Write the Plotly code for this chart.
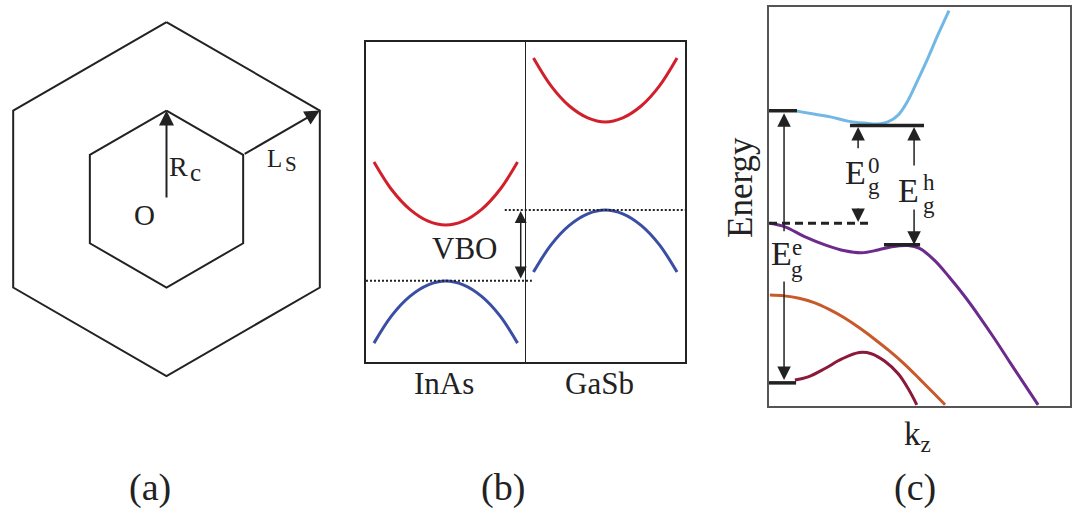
import plotly.graph_objects as go

W, H = 1077, 511
FONT = "Liberation Serif"
INK = "#222222"

# ---------------- panel (a): hexagons (units of Rc) ----------------
outer_hex_x = [0.0, 1.732, 1.732, 0.0, -1.732, -1.732, 0.0]
outer_hex_y = [2.0, 1.0, -1.0, -2.0, -1.0, 1.0, 2.0]
inner_hex_x = [0.0, 0.866, 0.866, 0.0, -0.866, -0.866, 0.0]
inner_hex_y = [1.0, 0.5, -0.5, -1.0, -0.5, 0.5, 1.0]
rc_arrow = dict(x0=0.0, y0=0.0, x1=0.0, y1=1.0)
ls_arrow = dict(x0=0.866, y0=0.5, x1=1.732, y1=1.0)

# ---------------- panel (b): band alignment ----------------
inas_k = [0.05, 0.16, 0.275, 0.39, 0.5, 0.61, 0.725, 0.84, 0.95]
gasb_k = [1.05, 1.16, 1.275, 1.39, 1.5, 1.61, 1.725, 1.84, 1.95]
inas_cb = [6.25, 5.39, 4.77, 4.40, 4.28, 4.40, 4.77, 5.39, 6.25]
inas_vb = [0.59, 1.44, 2.05, 2.41, 2.53, 2.41, 2.05, 1.44, 0.59]
gasb_cb = [9.50, 8.63, 8.00, 7.63, 7.50, 7.63, 8.00, 8.63, 9.50]
gasb_vb = [2.81, 3.66, 4.27, 4.63, 4.75, 4.63, 4.27, 3.66, 2.81]
inas_vbm_line = dict(x=[0.0, 1.04], e=2.54)
gasb_vbm_line = dict(x=[0.87, 2.0], e=4.75)
vbo_arrow = dict(k=0.97, e0=2.56, e1=4.72)

# ---------------- panel (c): dispersion along kz ----------------
c1_k = [0.092, 0.153, 0.208, 0.262, 0.319, 0.362, 0.395, 0.429, 0.462, 0.495, 0.528, 0.561, 0.598]
c1_e = [7.39, 7.31, 7.24, 7.14, 7.09, 7.07, 7.12, 7.29, 7.66, 8.18, 8.72, 9.30, 9.91]
v1_k = [0.003, 0.053, 0.120, 0.186, 0.252, 0.308, 0.362, 0.408, 0.462, 0.50, 0.55, 0.60,
        0.65, 0.70, 0.75, 0.80, 0.85, 0.894]
v1_e = [4.58, 4.49, 4.24, 4.04, 3.89, 3.84, 3.91, 3.99, 4.02, 3.95, 3.65, 3.22,
        2.75, 2.23, 1.68, 1.10, 0.53, 0.03]
v2_k = [0.003, 0.05, 0.10, 0.15, 0.20, 0.25, 0.30, 0.35, 0.40, 0.45, 0.50, 0.55, 0.585]
v2_e = [2.78, 2.76, 2.70, 2.59, 2.42, 2.21, 1.96, 1.68, 1.38, 1.05, 0.68, 0.30, 0.03]
v3_k = [0.086, 0.130, 0.186, 0.242, 0.300, 0.340, 0.385, 0.430, 0.465, 0.491]
v3_e = [0.65, 0.73, 0.94, 1.18, 1.34, 1.31, 1.12, 0.80, 0.40, 0.03]
# marker bars: (k_start, k_end, energy, dashed)
bars = [(0.0, 0.093, 7.40, False),
        (0.269, 0.515, 7.03, False),
        (0.0, 0.34, 4.58, True),
        (0.382, 0.502, 4.04, False),
        (0.0, 0.090, 0.58, False)]
# gap arrows: (k, tail, head)
gap_arrows = [(0.050, 4.34, 7.34), (0.050, 3.16, 0.65),
              (0.296, 6.42, 6.99), (0.296, 4.99, 4.61),
              (0.482, 5.99, 6.99), (0.482, 4.96, 4.04)]

fig = go.Figure()

# panel a
for xs, ys in [(outer_hex_x, outer_hex_y), (inner_hex_x, inner_hex_y)]:
    fig.add_trace(go.Scatter(x=xs, y=ys, mode="lines", line=dict(color=INK, width=2),
                             xaxis="x", yaxis="y", hoverinfo="skip", showlegend=False))

# panel b
for ks, es, col in [(inas_k, inas_cb, "#d1202b"), (inas_k, inas_vb, "#3a4ea3"),
                    (gasb_k, gasb_cb, "#d1202b"), (gasb_k, gasb_vb, "#3a4ea3")]:
    fig.add_trace(go.Scatter(x=ks, y=es, mode="lines", line=dict(color=col, width=3, shape="spline"),
                             xaxis="x2", yaxis="y2", hoverinfo="skip", showlegend=False))
for ln in (inas_vbm_line, gasb_vbm_line):
    fig.add_trace(go.Scatter(x=ln["x"], y=[ln["e"], ln["e"]], mode="lines",
                             line=dict(color=INK, width=2, dash="2px,2px"),
                             xaxis="x2", yaxis="y2", hoverinfo="skip", showlegend=False))
fig.add_trace(go.Scatter(x=[1.0, 1.0], y=[0, 10], mode="lines", line=dict(color=INK, width=1),
                         xaxis="x2", yaxis="y2", hoverinfo="skip", showlegend=False))

# panel c
for ks, es, col in [(c1_k, c1_e, "#72b8e6"), (v1_k, v1_e, "#6b2a8c"),
                    (v2_k, v2_e, "#c85a2a"), (v3_k, v3_e, "#8b1a3a")]:
    fig.add_trace(go.Scatter(x=ks, y=es, mode="lines", line=dict(color=col, width=3, shape="spline"),
                             xaxis="x3", yaxis="y3", hoverinfo="skip", showlegend=False))
for k0, k1, e, dashed in bars:
    fig.add_trace(go.Scatter(x=[k0, k1], y=[e, e], mode="lines",
                             line=dict(color=INK, width=3.5 if not dashed else 3,
                                       dash="8px,5px" if dashed else "solid"),
                             xaxis="x3", yaxis="y3", hoverinfo="skip", showlegend=False))

ann = []

def arrow(x0, y0, x1, y1, xr, yr, side="end", size=1.3, width=1.5):
    ann.append(dict(x=x1, y=y1, ax=x0, ay=y0, xref=xr, yref=yr, axref=xr, ayref=yr,
                    text="", showarrow=True, arrowhead=2, arrowside=side,
                    arrowsize=size, arrowwidth=width, arrowcolor=INK, standoff=0))

def txt(x, y, s, size, xr, yr, **kw):
    ann.append(dict(x=x, y=y, xref=xr, yref=yr, text=s, showarrow=False,
                    xanchor="center", yanchor="middle",
                    font=dict(family=FONT, size=size, color=INK), **kw))

arrow(rc_arrow["x0"], rc_arrow["y0"], rc_arrow["x1"], rc_arrow["y1"], "x", "y", size=1.5, width=2)
arrow(ls_arrow["x0"], ls_arrow["y0"], ls_arrow["x1"], ls_arrow["y1"], "x", "y", size=1.5, width=2)
txt(0.13, 0.373, "R", 28, "x", "y")
txt(0.33, 0.30, "c", 25, "x", "y")
txt(-0.254, -0.18, "O", 29, "x", "y")
txt(1.22, 0.46, "L", 25, "x", "y")
txt(1.41, 0.40, "S", 21, "x", "y")

arrow(vbo_arrow["k"], vbo_arrow["e0"], vbo_arrow["k"], vbo_arrow["e1"], "x2", "y2",
      side="end+start", size=1.6, width=1.5)
txt(0.62, 3.56, "VBO", 31, "x2", "y2")

for k, e0, e1 in gap_arrows:
    arrow(k, e0, k, e1, "x3", "y3", size=1.8, width=1.5)
# E_g labels
for (xe, ye), (xs_, ys_sup, ys_sub), sup in [((0.289, 5.86), (0.35, 6.02, 5.50), "0"),
                                              ((0.465, 5.39), (0.53, 5.60, 5.02), "h"),
                                              ((0.040, 3.81), (0.093, 3.98, 3.43), "e")]:
    txt(xe, ye, "E", 34, "x3", "y3")
    txt(xs_, ys_sup, sup, 23, "x3", "y3")
    txt(xs_, ys_sub, "g", 23, "x3", "y3")

# outside labels (paper)
def ptxt(px, py, s, size, **kw):
    txt(px / W, 1 - py / H, s, size, "paper", "paper", **kw)

ptxt(444, 383, "InAs", 31)
ptxt(599, 383, "GaSb", 31)
ptxt(740, 188, "Energy", 35, textangle=-90)
ptxt(917, 436, "k<sub>z</sub>", 33)
ptxt(150, 487, "(a)", 38)
ptxt(503, 487, "(b)", 38)
ptxt(915, 487, "(c)", 38)

hid = dict(visible=False, showgrid=False, zeroline=False, fixedrange=True)
box = lambda col: dict(showline=True, mirror=True, linecolor=col, linewidth=2, showgrid=False,
                       zeroline=False, showticklabels=False, ticks="", fixedrange=True)

fig.update_layout(
    width=W, height=H, margin=dict(l=0, r=0, t=0, b=0),
    paper_bgcolor="white", plot_bgcolor="rgba(0,0,0,0)", showlegend=False,
    xaxis=dict(domain=[0, 340 / W], range=[-1.881, 1.960], **hid),
    yaxis=dict(domain=[1 - 400 / H, 1], range=[-2.271, 2.249], **hid),
    xaxis2=dict(domain=[366 / W, 685 / W], range=[0, 2], anchor="y2", **box(INK)),
    yaxis2=dict(domain=[1 - 362 / H, 1 - 42 / H], range=[0, 10], anchor="x2", **box(INK)),
    xaxis3=dict(domain=[769 / W, 1070 / W], range=[0, 1], anchor="y3", **box("#555555")),
    yaxis3=dict(domain=[1 - 406 / H, 1 - 7 / H], range=[0, 10], anchor="x3", **box("#555555")),
    annotations=ann,
)

fig.write_html("out.html")
